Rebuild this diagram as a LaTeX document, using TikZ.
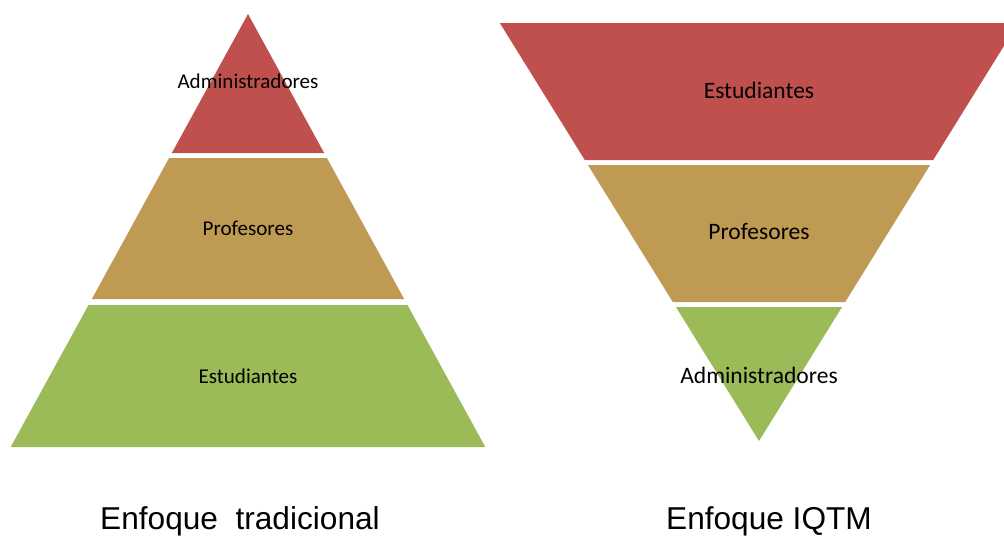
\documentclass[tikz,border=0pt]{standalone}
\usepackage{fontspec}
\setmainfont{Carlito}
\newfontfamily\captionfont{Liberation Sans}
\definecolor{layerRed}{HTML}{C0504D}
\definecolor{layerTan}{HTML}{BE9A52}
\definecolor{layerGreen}{HTML}{9BBB59}
% one band of a triangle: colour, centre x, apex y, slope, top y, bottom y
\newcommand{\drawBand}[6]{
  \fill[#1] ({#2-abs(#5-#3)*#4},#5) -- ({#2+abs(#5-#3)*#4},#5)
    -- ({#2+abs(#6-#3)*#4},#6) -- ({#2-abs(#6-#3)*#4},#6) -- cycle;
}

\begin{document}
\begin{tikzpicture}[x=0.02cm, y=-0.02cm,
  leftlabel/.style={font=\fontsize{12}{14}\selectfont, inner sep=0pt},
  rightlabel/.style={font=\fontsize{13.4}{16}\selectfont, inner sep=0pt},
  caption/.style={font=\captionfont\fontsize{18}{21}\selectfont, inner sep=0pt}]
  \clip (0,0) rectangle (1004,539);

  % Pyramid
  \drawBand{layerRed}{248}{14}{0.548}{14}{153}
  \drawBand{layerTan}{248}{14}{0.548}{158}{299}
  \drawBand{layerGreen}{248}{14}{0.548}{305}{447}
  \node[leftlabel] (leftTop) at (248,81) {Administradores};
  \node[leftlabel] (leftMid) at (248,228) {Profesores};
  \node[leftlabel] (leftBot) at (248,376) {Estudiantes};

  % Inverted pyramid
  \drawBand{layerRed}{759}{441}{0.62}{23}{160}
  \drawBand{layerTan}{759}{441}{0.62}{165}{302}
  \drawBand{layerGreen}{759}{441}{0.62}{307}{441}
  \node[rightlabel] (rightTop) at (759,90) {Estudiantes};
  \node[rightlabel] (rightMid) at (759,232) {Profesores};
  \node[rightlabel] (rightBot) at (759,375) {Administradores};

  \node[caption] (leftCaption) at (240,521) {Enfoque\ \ tradicional};
  \node[caption] (rightCaption) at (769,521) {Enfoque IQTM};
\end{tikzpicture}
\end{document}
